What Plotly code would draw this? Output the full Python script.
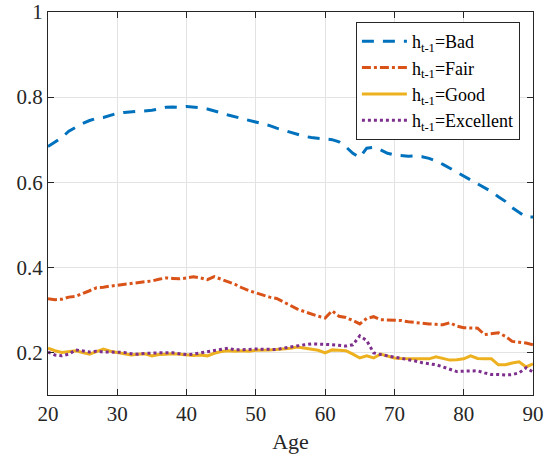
import plotly.graph_objects as go

# age grid and transition probabilities
ages = list(range(20, 91))

bad = [0.684, 0.695, 0.705, 0.72, 0.73, 0.738, 0.745, 0.75, 0.752, 0.757,
       0.762, 0.764, 0.765, 0.766, 0.767, 0.769, 0.772, 0.776, 0.777, 0.776,
       0.778, 0.777, 0.775, 0.772, 0.768, 0.763, 0.758, 0.754, 0.75, 0.745,
       0.742, 0.738, 0.733, 0.727, 0.722, 0.717, 0.712, 0.708, 0.705, 0.703,
       0.701, 0.700, 0.695, 0.683, 0.668, 0.658, 0.68, 0.682, 0.676, 0.668,
       0.664, 0.662, 0.661, 0.662, 0.66, 0.656, 0.65, 0.642, 0.633, 0.622,
       0.615, 0.605, 0.597, 0.588, 0.578, 0.566, 0.555, 0.54, 0.528, 0.518,
       0.518]

fair = [0.326, 0.324, 0.325, 0.33, 0.332, 0.338, 0.345, 0.352, 0.353, 0.356,
        0.358, 0.361, 0.363, 0.364, 0.366, 0.368, 0.372, 0.375, 0.374, 0.373,
        0.375, 0.378, 0.375, 0.371, 0.378, 0.372, 0.366, 0.36, 0.352, 0.345,
        0.34, 0.335, 0.33, 0.327, 0.318, 0.31, 0.302, 0.296, 0.29, 0.285,
        0.281, 0.298, 0.285, 0.282, 0.275, 0.267, 0.28, 0.284, 0.277, 0.276,
        0.276, 0.275, 0.272, 0.27, 0.268, 0.267, 0.266, 0.265, 0.27, 0.262,
        0.258, 0.258, 0.257, 0.242, 0.244, 0.246, 0.238, 0.226, 0.224, 0.222,
        0.218]

good = [0.21, 0.204, 0.2, 0.202, 0.204, 0.2, 0.196, 0.202, 0.208, 0.203,
        0.2, 0.198, 0.194, 0.196, 0.197, 0.192, 0.195, 0.196, 0.197, 0.196,
        0.194, 0.193, 0.194, 0.192, 0.198, 0.202, 0.204, 0.203, 0.204, 0.203,
        0.205, 0.205, 0.206, 0.207, 0.208, 0.21, 0.213, 0.21, 0.208, 0.205,
        0.199, 0.206, 0.205, 0.204, 0.196, 0.187, 0.192, 0.187, 0.196, 0.192,
        0.187, 0.186, 0.185, 0.185, 0.185, 0.185, 0.19, 0.186, 0.182, 0.183,
        0.185, 0.192, 0.186, 0.185, 0.185, 0.171, 0.171, 0.175, 0.178, 0.166,
        0.173]

excellent = [0.201, 0.194, 0.192, 0.196, 0.206, 0.203, 0.201, 0.203, 0.201, 0.201,
             0.201, 0.2, 0.197, 0.196, 0.198, 0.199, 0.199, 0.199, 0.199, 0.197,
             0.195, 0.196, 0.199, 0.201, 0.205, 0.208, 0.21, 0.206, 0.206, 0.207,
             0.208, 0.208, 0.208, 0.207, 0.21, 0.213, 0.216, 0.218, 0.22, 0.22,
             0.219, 0.218, 0.217, 0.215, 0.218, 0.239, 0.228, 0.199, 0.195, 0.192,
             0.19, 0.187, 0.184, 0.18, 0.176, 0.174, 0.171, 0.166, 0.16, 0.155,
             0.156, 0.157, 0.157, 0.152, 0.148, 0.148, 0.147, 0.148, 0.152, 0.164,
             0.154]

x_ticks = [20, 30, 40, 50, 60, 70, 80, 90]
y_ticks = [0.2, 0.4, 0.6, 0.8, 1.0]
y_tick_labels = ["0.2", "0.4", "0.6", "0.8", "1"]

series = [
    ("h<sub>t-1</sub>=Bad", bad, "#0072BD", "12px,9px"),
    ("h<sub>t-1</sub>=Fair", fair, "#D95319", "dashdot"),
    ("h<sub>t-1</sub>=Good", good, "#EDB120", "solid"),
    ("h<sub>t-1</sub>=Excellent", excellent, "#7E2F8E", "dot"),
]

SERIF = "Liberation Serif"

fig = go.Figure()
for name, vals, color, dash in series:
    fig.add_trace(go.Scatter(x=ages, y=vals, name=name, mode="lines",
                             line=dict(color=color, width=3, dash=dash)))

fig.update_layout(
    width=551, height=461,
    font=dict(family=SERIF, size=21, color="#262626"),
    margin=dict(l=48, r=18, t=12, b=66, autoexpand=False),
    plot_bgcolor="white", paper_bgcolor="white",
    xaxis=dict(range=[20, 90], tickmode="array", tickvals=x_ticks,
               showline=True, linecolor="#262626", linewidth=1, mirror="ticks",
               ticks="inside", ticklen=6, tickcolor="#262626",
               showgrid=True, gridcolor="#e3e3e3", zeroline=False, automargin=False,
               tickfont=dict(family=SERIF, size=21, color="#262626"),
               title=dict(text="Age", font=dict(family=SERIF, size=22, color="#262626"),
                          standoff=8)),
    yaxis=dict(range=[0.1, 1], tickmode="array", tickvals=y_ticks, ticktext=y_tick_labels,
               showline=True, linecolor="#262626", linewidth=1, mirror="ticks",
               ticks="inside", ticklen=6, tickcolor="#262626",
               showgrid=True, gridcolor="#e3e3e3", zeroline=False, automargin=False,
               tickfont=dict(family=SERIF, size=21, color="#262626")),
    legend=dict(x=0.973, y=0.974, xanchor="right", yanchor="top",
                bgcolor="white", bordercolor="#262626", borderwidth=1,
                font=dict(family=SERIF, size=18, color="#000000"),
                itemwidth=45, tracegroupgap=0),
)

fig.write_html("out.html", config={"displayModeBar": False},
               post_script="document.body.style.margin='0';")
